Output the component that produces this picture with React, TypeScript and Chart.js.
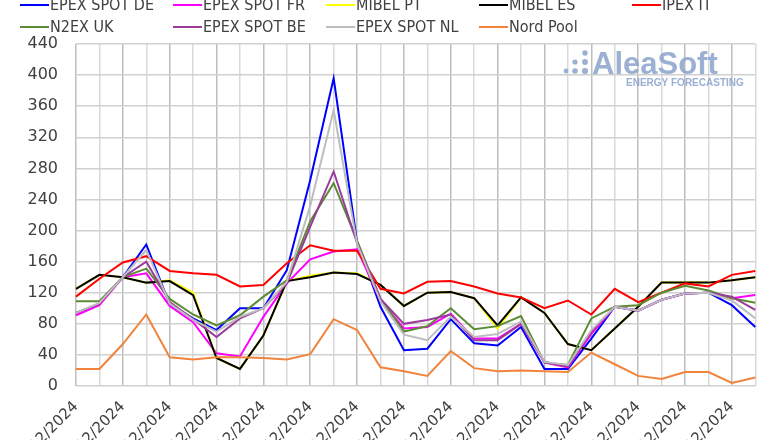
import React, { useEffect, useRef } from "react";
import { Chart, registerables } from "chart.js";

Chart.register(...registerables);

const dates = [
  "01/12/2024", "02/12/2024", "03/12/2024", "04/12/2024", "05/12/2024",
  "06/12/2024", "07/12/2024", "08/12/2024", "09/12/2024", "10/12/2024",
  "11/12/2024", "12/12/2024", "13/12/2024", "14/12/2024", "15/12/2024",
  "16/12/2024", "17/12/2024", "18/12/2024", "19/12/2024", "20/12/2024",
  "21/12/2024", "22/12/2024", "23/12/2024", "24/12/2024", "25/12/2024",
  "26/12/2024", "27/12/2024", "28/12/2024", "29/12/2024", "30/12/2024",
];

const epexDE = [94, 106, 140, 182, 105, 87, 72, 100, 100, 149, 265, 396, 185, 102, 46, 48, 86, 55, 52, 76, 22, 22, 61, 102, 97, 111, 119, 120, 104, 76];
const epexFR = [91, 104, 140, 145, 103, 82, 42, 38, 89, 132, 163, 173, 176, 110, 74, 76, 93, 61, 61, 80, 30, 24, 67, 102, 97, 111, 119, 120, 113, 117];
const mibelPT = [125, 143, 140, 133, 136, 120, 36, 22, 65, 135, 142, 146, 145, 130, 103, 120, 121, 113, 74, 114, 94, 54, 46, 74, 102, 133, 133, 133, 136, 140];
const mibelES = [125, 143, 140, 133, 135, 117, 36, 22, 65, 135, 140, 146, 144, 130, 103, 120, 121, 113, 78, 114, 94, 54, 46, 74, 102, 133, 133, 133, 136, 140];
const ipexIT = [115, 138, 159, 167, 148, 145, 143, 128, 130, 158, 181, 174, 174, 125, 119, 134, 135, 128, 119, 114, 100, 110, 92, 125, 108, 120, 132, 128, 143, 148];
const n2exUK = [109, 109, 140, 151, 112, 92, 78, 91, 115, 136, 212, 261, 187, 112, 70, 77, 100, 73, 77, 90, 30, 27, 87, 102, 104, 120, 129, 123, 113, 107];
const epexBE = [94, 106, 140, 160, 108, 86, 63, 87, 100, 132, 205, 276, 184, 112, 80, 85, 92, 59, 59, 80, 31, 25, 70, 102, 97, 111, 119, 120, 115, 98];
const epexNL = [94, 107, 140, 175, 106, 85, 70, 89, 100, 134, 232, 355, 183, 109, 66, 59, 89, 63, 67, 83, 31, 27, 72, 102, 97, 111, 119, 120, 110, 87];
const nordPool = [22, 22, 54, 92, 37, 34, 37, 37, 36, 34, 41, 86, 72, 24, 19, 13, 45, 23, 19, 20, 19, 18, 43, 28, 13, 9, 18, 18, 4, 11];

const seriesNames = ["EPEX SPOT DE", "EPEX SPOT FR", "MIBEL PT", "MIBEL ES", "IPEX IT", "N2EX UK", "EPEX SPOT BE", "EPEX SPOT NL", "Nord Pool"];
const seriesData = [epexDE, epexFR, mibelPT, mibelES, ipexIT, n2exUK, epexBE, epexNL, nordPool];
const seriesColors = ["#0000FF", "#FF00FF", "#FFFF00", "#000000", "#FF0000", "#5B8C35", "#9B3A9B", "#BDBDBD", "#F0843C"];

const yTicks = [0, 40, 80, 120, 160, 200, 240, 280, 320, 360, 400, 440];

const TEXT = "#404040";
const FONT = "'DejaVu Sans', 'Liberation Sans', sans-serif";
const LEGEND_FONT = "'DejaVu Sans Condensed', 'Liberation Sans Narrow', 'DejaVu Sans', sans-serif";

const watermark = {
  id: "aleasoftWatermark",
  beforeDatasetsDraw(chart: any) {
    const ctx = chart.ctx;
    ctx.save();
    ctx.fillStyle = "rgba(138,162,203,0.85)";
    const dots: [number, number, number][] = [
      [566, 71, 2.4],
      [575, 71, 2.8], [575, 62, 2.6],
      [585, 71, 3.1], [585, 62, 2.9], [585, 53, 2.7],
    ];
    dots.forEach(([x, y, r]) => {
      ctx.beginPath();
      ctx.arc(x, y, r, 0, Math.PI * 2);
      ctx.fill();
    });
    ctx.textBaseline = "alphabetic";
    ctx.textAlign = "left";
    ctx.font = "bold 31px 'Liberation Sans', Arial, sans-serif";
    ctx.fillText("AleaSoft", 592, 74);
    ctx.font = "bold 10px 'Liberation Sans', Arial, sans-serif";
    ctx.fillText("ENERGY FORECASTING", 626, 86);
    ctx.restore();
  },
};

export default function App() {
  const canvasRef = useRef<HTMLCanvasElement | null>(null);

  useEffect(() => {
    if (!canvasRef.current) return;
    const chart = new Chart(canvasRef.current, {
      type: "line",
      data: {
        labels: dates,
        datasets: seriesNames.map((name, i) => ({
          label: name,
          data: seriesData[i],
          borderColor: seriesColors[i],
          backgroundColor: seriesColors[i],
          borderWidth: 2,
          pointRadius: 0,
          tension: 0,
          fill: false,
          order: seriesNames.length - i,
        })),
      },
      options: {
        animation: false,
        responsive: false,
        devicePixelRatio: 1,
        layout: { padding: { top: 44, right: 17, left: 0, bottom: 0 } },
        plugins: {
          legend: { display: false },
          tooltip: { enabled: false },
        },
        scales: {
          x: {
            offset: false,
            afterFit: (scale: any) => {
              scale.height = 54;
            },
            grid: {
              drawTicks: false,
              lineWidth: 1.5,
              color: (ctx: any) => (ctx.index % 2 === 0 ? "#BDBDBD" : "#D9D9D9"),
            },
            border: { display: false },
            ticks: {
              autoSkip: false,
              maxRotation: 45,
              minRotation: 45,
              padding: 12,
              color: TEXT,
              font: { family: FONT, size: 15 },
              callback: function (this: any, value: any, index: number) {
                return index % 2 === 0 ? this.getLabelForValue(value) : "";
              },
            },
          },
          y: {
            min: 0,
            max: 440,
            afterFit: (scale: any) => {
              scale.width = 76;
            },
            afterBuildTicks: (scale: any) => {
              scale.ticks = yTicks.map((v) => ({ value: v }));
            },
            grid: {
              drawTicks: false,
              lineWidth: 1.5,
              color: "#D0D0D0",
            },
            border: { display: false },
            ticks: {
              padding: 18,
              color: TEXT,
              font: { family: FONT, size: 16 },
            },
          },
        },
      },
      plugins: [watermark],
    });
    return () => chart.destroy();
  }, []);

  const colX = [20, 173, 326, 479, 632];
  const rowY = [5, 27];

  return (
    <div
      style={{
        position: "fixed",
        left: 0,
        top: 0,
        width: 780,
        height: 440,
        overflow: "hidden",
        background: "#FFFFFF",
      }}
    >
      <canvas ref={canvasRef} width={780} height={440} style={{ position: "absolute", left: 0, top: 0, width: 780, height: 440 }} />
      {seriesNames.map((name, i) => {
        const row = i < 5 ? 0 : 1;
        const col = i < 5 ? i : i - 5;
        const x = colX[col];
        const y = rowY[row];
        return (
          <React.Fragment key={name}>
            <div
              style={{
                position: "absolute",
                left: x,
                top: y - 1,
                width: 29,
                height: 2,
                background: seriesColors[i],
              }}
            />
            <div
              style={{
                position: "absolute",
                left: x + 30,
                top: y - 10,
                height: 20,
                lineHeight: "20px",
                fontFamily: LEGEND_FONT,
                fontStretch: "condensed",
                fontSize: 16,
                color: TEXT,
                whiteSpace: "nowrap",
              }}
            >
              {name}
            </div>
          </React.Fragment>
        );
      })}
    </div>
  );
}
